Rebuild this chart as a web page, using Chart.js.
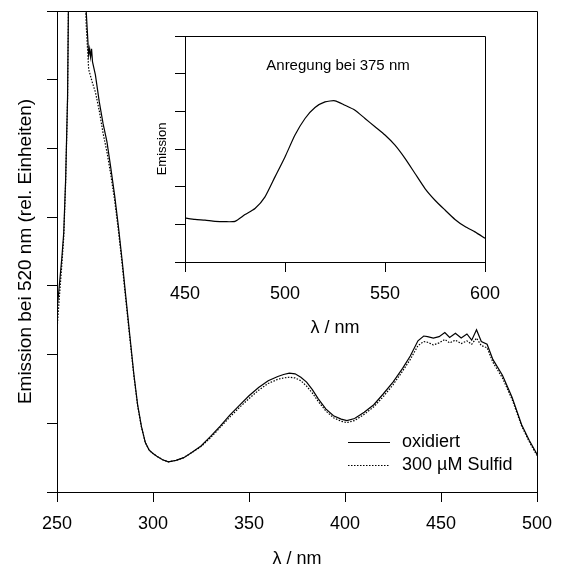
<!DOCTYPE html>
<html>
<head>
<meta charset="utf-8">
<script src="https://cdn.jsdelivr.net/npm/chart.js@4.4.0/dist/chart.umd.min.js"></script>
<style>
  html, body { margin: 0; padding: 0; background: #fff; }
  #wrap { position: relative; width: 561px; height: 570px; }
  #mainChart { position: absolute; left: 0; top: 0; }
  #insetChart { position: absolute; left: 140px; top: 20px; }
</style>
</head>
<body>
<div id="wrap">
  <canvas id="mainChart" width="561" height="570"></canvas>
  <canvas id="insetChart" width="400" height="330"></canvas>
</div>
<script>
// main spectrum (excitation, emission at 520 nm)
const wavelengths = [250, 251, 252.5, 253.5, 254.5, 255.5, 256, 258, 261, 264, 265.2, 266.5, 267, 267.5, 268, 268.5,
  270, 272, 274, 276, 278, 280, 282, 284, 286, 288, 290, 292, 294, 296, 298, 300, 302, 305, 308, 312, 316, 320,
  325, 330, 335, 340, 345, 350, 355, 360, 365, 368, 371, 374, 377, 380, 383, 386, 390, 394, 398, 401, 405, 410,
  415, 420, 425, 430, 434, 438, 441, 443, 446, 449, 452, 454.5, 457.5, 460.5, 463.5, 466, 468.5, 471, 474, 477,
  482, 487, 492, 496, 500];
const oxidiert = [2.65, 2.94, 3.40, 3.77, 4.55, 5.75, 7.2, 8.5, 9, 8.5, 7.0, 6.36, 6.45, 6.33, 6.45, 6.26,
  6.07, 5.68, 5.36, 5.10, 4.72, 4.32, 3.86, 3.35, 2.80, 2.26, 1.72, 1.27, 0.95, 0.72, 0.61, 0.56, 0.52, 0.47, 0.44, 0.46, 0.50, 0.57,
  0.67, 0.81, 0.96, 1.12, 1.26, 1.40, 1.52, 1.62, 1.68, 1.71, 1.73, 1.72, 1.67, 1.60, 1.49, 1.36, 1.21, 1.11, 1.06, 1.04, 1.07, 1.16,
  1.27, 1.43, 1.60, 1.80, 1.98, 2.20, 2.27, 2.26, 2.24, 2.26, 2.32, 2.25, 2.31, 2.24, 2.30, 2.21, 2.36, 2.19, 2.15, 1.93,
  1.70, 1.38, 0.98, 0.75, 0.55];
const sulfid = [2.36, 2.75, 3.30, 3.70, 4.50, 5.70, 7.2, 8.5, 9, 8.0, 6.8, 6.15, 6.10, 6.05, 6.00, 5.95,
  5.82, 5.55, 5.22, 4.95, 4.62, 4.25, 3.80, 3.30, 2.75, 2.22, 1.70, 1.25, 0.94, 0.72, 0.61, 0.56, 0.52, 0.47, 0.44, 0.46, 0.50, 0.57,
  0.66, 0.79, 0.94, 1.09, 1.23, 1.36, 1.48, 1.58, 1.64, 1.66, 1.67, 1.66, 1.62, 1.54, 1.44, 1.32, 1.18, 1.08, 1.03, 1.01, 1.04, 1.13,
  1.24, 1.39, 1.56, 1.76, 1.93, 2.13, 2.19, 2.18, 2.14, 2.17, 2.22, 2.17, 2.21, 2.16, 2.20, 2.15, 2.24, 2.13, 2.10, 1.89,
  1.66, 1.35, 0.96, 0.73, 0.53];

// inset: emission spectrum, excitation at 375 nm
const insetWavelengths = [450, 455, 460, 465, 470, 475, 480, 485, 490, 495, 500, 505, 510, 515, 520, 525, 530,
  535, 540, 545, 550, 555, 560, 565, 570, 575, 580, 585, 590, 595, 600];
const insetEmission = [1.17, 1.13, 1.11, 1.08, 1.07, 1.08, 1.26, 1.42, 1.73, 2.26, 2.79, 3.37, 3.81, 4.10, 4.25, 4.28, 4.16,
  4.03, 3.81, 3.59, 3.37, 3.10, 2.75, 2.35, 1.95, 1.64, 1.38, 1.13, 0.94, 0.80, 0.63];

const seriesNames = ["oxidiert", "300 µM Sulfid"];

const FONT = "Arial, 'Liberation Sans', sans-serif";

const toPoints = (xs, ys) => xs.map((x, i) => ({ x: x, y: ys[i] }));

const framePlugin = {
  id: "frame",
  afterDatasetsDraw(chart) {
    const { ctx, chartArea: a } = chart;
    ctx.save();
    ctx.strokeStyle = "#000";
    ctx.lineWidth = 1;
    ctx.beginPath();
    ctx.moveTo(Math.round(a.left), Math.round(a.top) + 0.5);
    ctx.lineTo(Math.round(a.right) + 0.5, Math.round(a.top) + 0.5);
    ctx.lineTo(Math.round(a.right) + 0.5, Math.round(a.bottom));
    ctx.stroke();
    ctx.restore();
  }
};

const legendPlugin = {
  id: "innerLegend",
  afterDraw(chart, args, opts) {
    if (!opts.display) return;
    const ctx = chart.ctx;
    ctx.save();
    ctx.font = opts.font;
    ctx.fillStyle = "#000";
    ctx.textBaseline = "middle";
    chart.data.datasets.forEach((ds, i) => {
      const y = opts.y + i * opts.gap;
      ctx.strokeStyle = ds.borderColor;
      ctx.lineWidth = ds.borderWidth;
      ctx.setLineDash(ds.borderDash || []);
      ctx.beginPath();
      ctx.moveTo(opts.x, y + 0.5);
      ctx.lineTo(opts.x + opts.lineLength, y + 0.5);
      ctx.stroke();
      ctx.setLineDash([]);
      ctx.fillText(ds.label, opts.x + opts.lineLength + 12, y);
    });
    ctx.restore();
  }
};

const innerTitlePlugin = {
  id: "innerTitle",
  afterDraw(chart, args, opts) {
    if (!opts.text) return;
    const { ctx, chartArea: a } = chart;
    ctx.save();
    ctx.font = opts.font;
    ctx.fillStyle = "#000";
    ctx.textAlign = "center";
    ctx.textBaseline = "middle";
    ctx.fillText(opts.text, (a.left + a.right) / 2 + 3, a.top + opts.offset);
    ctx.restore();
  }
};

function axis(min, max, step, showLabels, title, titleSize, titlePad, fitSize, horizontal) {
  return {
    type: "linear",
    min: min,
    max: max,
    border: { display: true, color: "#000", width: 1 },
    grid: { drawOnChartArea: false, drawTicks: true, tickLength: 10, color: "#000", lineWidth: 1 },
    ticks: {
      display: showLabels,
      stepSize: step,
      color: "#000",
      padding: 11,
      maxRotation: 0,
      font: { family: FONT, size: 18 }
    },
    title: {
      display: true,
      text: title,
      color: "#000",
      font: { family: FONT, size: titleSize },
      padding: titlePad
    },
    afterFit: (scale) => {
      if (horizontal) {
        scale.height = fitSize;
        // let layout.padding alone decide the side margins
        scale.paddingLeft = 0;
        scale.paddingRight = 0;
      } else {
        scale.width = fitSize;
        scale.paddingTop = 0;
        scale.paddingBottom = 0;
      }
    }
  };
}

Chart.defaults.animation = false;

new Chart(document.getElementById("mainChart"), {
  type: "line",
  data: {
    datasets: [
      {
        label: seriesNames[0],
        data: toPoints(wavelengths, oxidiert),
        borderColor: "#000",
        borderWidth: 1.2,
        pointRadius: 0,
        tension: 0
      },
      {
        label: seriesNames[1],
        data: toPoints(wavelengths, sulfid),
        borderColor: "#000",
        borderWidth: 1.2,
        borderDash: [1.5, 1.5],
        pointRadius: 0,
        tension: 0
      }
    ]
  },
  options: {
    responsive: false,
    layout: { padding: { left: 0, right: 24, top: 11, bottom: 0 } },
    scales: {
      x: axis(250, 500, 50, true, "λ / nm", 18, { top: 0, bottom: 0 }, 78, true),
      y: axis(0, 7, 1, false, "Emission bei 520 nm (rel. Einheiten)", 19, { top: 14, bottom: 0 }, 57, false)
    },
    plugins: {
      legend: { display: false },
      tooltip: { enabled: false },
      innerLegend: { display: true, x: 348, y: 442, gap: 23, lineLength: 42, font: "18px " + FONT }
    }
  },
  plugins: [framePlugin, legendPlugin]
});

new Chart(document.getElementById("insetChart"), {
  type: "line",
  data: {
    datasets: [
      {
        label: "Emission",
        data: toPoints(insetWavelengths, insetEmission),
        borderColor: "#000",
        borderWidth: 1.2,
        pointRadius: 0,
        tension: 0.2
      }
    ]
  },
  options: {
    responsive: false,
    layout: { padding: { left: 0, right: 55, top: 16, bottom: 0 } },
    scales: {
      x: axis(450, 600, 50, true, "λ / nm", 18, { top: 0, bottom: 11 }, 88, true),
      y: axis(0, 6, 1, false, "Emission", 13, { top: 15, bottom: 0 }, 45, false)
    },
    plugins: {
      legend: { display: false },
      tooltip: { enabled: false },
      innerTitle: { text: "Anregung bei 375 nm", font: "15px " + FONT, offset: 30 }
    }
  },
  plugins: [framePlugin, innerTitlePlugin]
});
</script>
</body>
</html>
